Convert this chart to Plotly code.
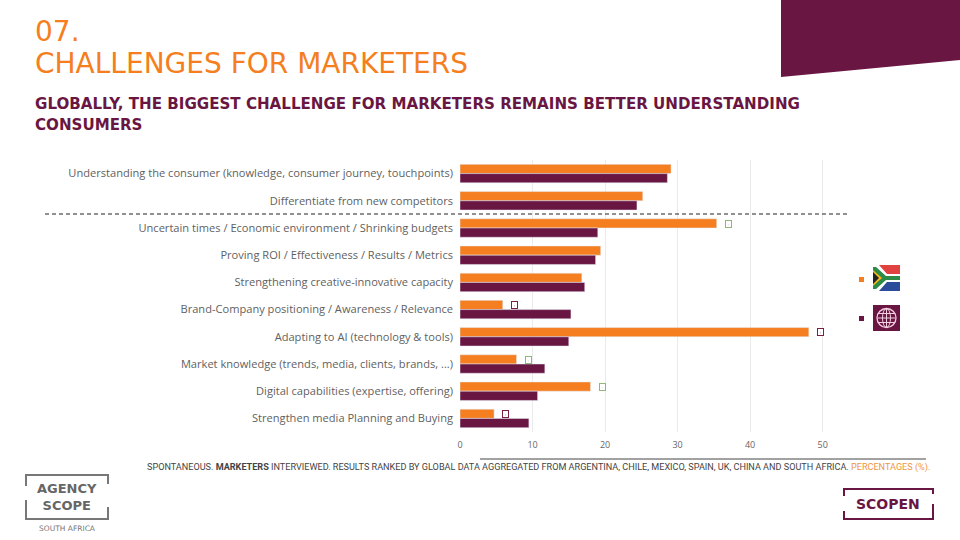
import plotly.graph_objects as go

# data
challenges = [
    "Understanding the consumer (knowledge, consumer journey, touchpoints)",
    "Differentiate from new competitors",
    "Uncertain times / Economic environment / Shrinking budgets",
    "Proving ROI / Effectiveness / Results / Metrics",
    "Strengthening creative-innovative capacity",
    "Brand-Company positioning / Awareness / Relevance",
    "Adapting to AI (technology & tools)",
    "Market knowledge (trends, media, clients, brands, ...)",
    "Digital capabilities (expertise, offering)",
    "Strengthen media Planning and Buying",
]
south_africa = [29.1, 25.2, 35.4, 19.4, 16.8, 5.9, 48.1, 7.8, 18.0, 4.7]
global_avg = [28.6, 24.4, 19.0, 18.7, 17.2, 15.3, 15.0, 11.7, 10.7, 9.5]
significance = [None, None, "up", None, None, "down", "down", "up", "up", "down"]
x_ticks = [0, 10, 20, 30, 40, 50]

ORANGE = "#F57F20"
PURPLE = "#6A1642"
GREEN = "#8DB87A"
DARKRED = "#7A2040"

# plot area in pixels (960x540 page)
L, R, T, B = 460, 848, 160, 432


def px(x):
    return (x - L) / (R - L)


def py(y):
    return (B - y) / (B - T)


fig = go.Figure()
fig.add_trace(go.Bar(y=challenges, x=south_africa, orientation="h", name="South Africa",
                     marker=dict(color=ORANGE), hoverinfo="x+y"))
fig.add_trace(go.Bar(y=challenges, x=global_avg, orientation="h", name="Global",
                     marker=dict(color=PURPLE), hoverinfo="x+y"))

annotations = []
# significance flags next to the South Africa bars
for cat, val, sig in zip(challenges, south_africa, significance):
    if sig is None:
        continue
    col = GREEN if sig == "up" else DARKRED
    annotations.append(dict(x=val + 1.6, y=cat, xref="x", yref="y", text="·", showarrow=False,
                            yshift=4.5, width=4, height=5, font=dict(size=6, color=col, family="DejaVu Sans"),
                            bordercolor=col, borderwidth=1, borderpad=0.5, bgcolor="white"))

shapes = []
# top-right purple block
shapes.append(dict(type="path", xref="paper", yref="paper", layer="above",
                   path=f"M {px(781)} {py(0)} L {px(960)} {py(0)} L {px(960)} {py(60)} L {px(781)} {py(77)} Z",
                   fillcolor=PURPLE, line=dict(width=0)))
# dashed separator
shapes.append(dict(type="line", xref="paper", yref="paper", x0=px(45), x1=px(848), y0=py(214), y1=py(214),
                   line=dict(color="#222", width=1, dash="4px,3px")))
# footer rule
shapes.append(dict(type="line", xref="paper", yref="paper", x0=px(480), x1=px(926), y0=py(459), y1=py(459),
                   line=dict(color="#444", width=1)))
# legend swatches
shapes.append(dict(type="rect", xref="paper", yref="paper", x0=px(859), x1=px(864), y0=py(282), y1=py(277),
                   fillcolor=ORANGE, line=dict(width=0)))
shapes.append(dict(type="rect", xref="paper", yref="paper", x0=px(859), x1=px(864), y0=py(321), y1=py(316),
                   fillcolor=PURPLE, line=dict(width=0)))
# flag icon (simplified)
shapes.append(dict(type="rect", xref="paper", yref="paper", x0=px(873), x1=px(900), y0=py(265), y1=py(278),
                   fillcolor="#E0433F", line=dict(width=0)))
shapes.append(dict(type="rect", xref="paper", yref="paper", x0=px(873), x1=px(900), y0=py(278), y1=py(291),
                   fillcolor="#2B4C9B", line=dict(width=0)))
shapes.append(dict(type="path", xref="paper", yref="paper",
                   path=f"M {px(873)} {py(265)} L {px(879)} {py(265)} L {px(887)} {py(274)} L {px(900)} {py(274)} "
                        f"L {px(900)} {py(282)} L {px(887)} {py(282)} L {px(879)} {py(291)} L {px(873)} {py(291)} Z",
                   fillcolor="#FFFFFF", line=dict(width=0)))
shapes.append(dict(type="path", xref="paper", yref="paper",
                   path=f"M {px(873)} {py(267)} L {px(876)} {py(267)} L {px(886)} {py(276)} L {px(900)} {py(276)} "
                        f"L {px(900)} {py(280)} L {px(886)} {py(280)} L {px(876)} {py(289)} L {px(873)} {py(289)} Z",
                   fillcolor="#2E8B45", line=dict(width=0)))
shapes.append(dict(type="path", xref="paper", yref="paper",
                   path=f"M {px(873)} {py(270)} L {px(882)} {py(278)} L {px(873)} {py(286)} Z",
                   fillcolor="#F2B81C", line=dict(width=0)))
shapes.append(dict(type="path", xref="paper", yref="paper",
                   path=f"M {px(873)} {py(272)} L {px(879)} {py(278)} L {px(873)} {py(284)} Z",
                   fillcolor="#222222", line=dict(width=0)))
# globe icon
shapes.append(dict(type="rect", xref="paper", yref="paper", x0=px(873), x1=px(900), y0=py(305), y1=py(331),
                   fillcolor=PURPLE, line=dict(width=0)))
shapes.append(dict(type="circle", xref="paper", yref="paper", x0=px(877), x1=px(896), y0=py(308.5), y1=py(327.5),
                   line=dict(color="#F4CFE2", width=1.3)))
shapes.append(dict(type="circle", xref="paper", yref="paper", x0=px(882.5), x1=px(890.5), y0=py(308.5), y1=py(327.5),
                   line=dict(color="#F4CFE2", width=1)))
for gy in (313.5, 318, 322.5):
    shapes.append(dict(type="line", xref="paper", yref="paper", x0=px(877.8), x1=px(895.2), y0=py(gy), y1=py(gy),
                       line=dict(color="#F4CFE2", width=1)))
shapes.append(dict(type="line", xref="paper", yref="paper", x0=px(886.5), x1=px(886.5), y0=py(308.5), y1=py(327.5),
                   line=dict(color="#F4CFE2", width=1)))
# logo boxes
shapes.append(dict(type="path", xref="paper", yref="paper",
                   path=f"M {px(26)} {py(486)} L {px(26)} {py(475)} L {px(108)} {py(475)} L {px(108)} {py(484)} "
                        f"M {px(26)} {py(500)} L {px(26)} {py(519)} L {px(108)} {py(519)} L {px(108)} {py(507)}",
                   line=dict(color="#777", width=2)))
shapes.append(dict(type="path", xref="paper", yref="paper",
                   path=f"M {px(844)} {py(496)} L {px(844)} {py(489)} L {px(933)} {py(489)} L {px(933)} {py(494)} "
                        f"M {px(844)} {py(511)} L {px(844)} {py(519)} L {px(933)} {py(519)} L {px(933)} {py(504)}",
                   line=dict(color=PURPLE, width=2)))

texts = [
    dict(text="07.", x=px(33), y=py(32), font=dict(size=28, color=ORANGE)),
    dict(text="CHALLENGES FOR MARKETERS", x=px(33), y=py(64), font=dict(size=28, color=ORANGE)),
    dict(text="<b>GLOBALLY, THE BIGGEST CHALLENGE FOR MARKETERS REMAINS BETTER UNDERSTANDING</b>",
         x=px(33), y=py(104), font=dict(size=15.1, color=PURPLE)),
    dict(text="<b>CONSUMERS</b>", x=px(33), y=py(125), font=dict(size=15.1, color=PURPLE)),
    dict(text="SPONTANEOUS. <b>MARKETERS</b> INTERVIEWED. RESULTS RANKED BY GLOBAL DATA AGGREGATED FROM ARGENTINA, "
              "CHILE, MEXICO, SPAIN, UK, CHINA AND SOUTH AFRICA. <span style='color:#F0953F'>PERCENTAGES (%).</span>",
         x=px(145), y=py(467), font=dict(size=9.1, color="#444", family="Roboto, Arial")),
    dict(text="<b>AGENCY<br>SCOPE</b>", x=px(67), y=py(497), xanchor="center", align="center",
         font=dict(size=13, color="#666")),
    dict(text="SOUTH AFRICA", x=px(67), y=py(528), xanchor="center", font=dict(size=7.5, color="#777")),
    dict(text="<b>SCOPEN</b>", x=px(888), y=py(504), xanchor="center", font=dict(size=14, color=PURPLE)),
]
for a in texts:
    a.setdefault("xanchor", "left")
    a.update(xref="paper", yref="paper", yanchor="middle", showarrow=False)
    a["font"].setdefault("family", "DejaVu Sans, Arial")
annotations += texts

fig.update_layout(
    width=960, height=540,
    margin=dict(l=L, r=960 - R, t=T, b=540 - B, pad=6),
    paper_bgcolor="white", plot_bgcolor="white",
    barmode="group", bargap=0.32, bargroupgap=0,
    showlegend=False,
    font=dict(family="Open Sans, Arial", color="#555"),
    shapes=shapes, annotations=annotations,
)
fig.update_xaxes(range=[0, 53.5], tickvals=x_ticks, showgrid=True, gridcolor="#EBEBEB", zeroline=False,
                 tickfont=dict(size=9, color="#666"), fixedrange=True)
fig.update_yaxes(autorange="reversed", showgrid=False, tickfont=dict(size=11.1, color="#5f5f5f"),
                 ticks="", fixedrange=True)

fig.write_html("out.html", config=dict(displayModeBar=False),
               post_script="document.body.style.margin='0px';")
